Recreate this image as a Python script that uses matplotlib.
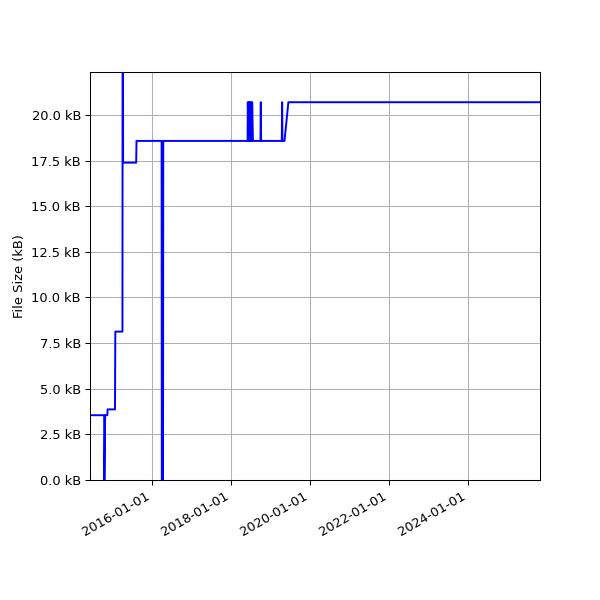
import matplotlib
matplotlib.use("Agg")
import matplotlib.pyplot as plt
import matplotlib.dates as mdates
import matplotlib.ticker as mticker
import numpy as np
from datetime import datetime

# commit dates and file size (kB)
commit_dates = ["2014-06-05", "2014-10-14", "2014-10-16", "2014-10-23", "2014-11-12",
                "2014-11-15",
                "2015-01-22", "2015-01-25", "2015-04-01", "2015-04-04", "2015-04-07",
                "2015-08-06", "2015-08-09",
                "2016-03-28", "2016-03-30", "2016-04-10", "2016-04-12",
                "2018-06-01", "2018-06-03", "2018-06-10", "2018-06-13", "2018-06-20",
                "2018-06-23", "2018-06-30", "2018-07-03", "2018-07-10", "2018-07-13",
                "2018-07-20", "2018-07-23",
                "2018-09-28", "2018-10-01", "2018-10-04",
                "2019-04-13", "2019-04-16", "2019-04-19",
                "2019-05-08", "2019-06-13", "2025-10-25"]
file_size_kb = [3.55, 3.55, 0.0, 3.55, 3.55,
                3.87,
                3.87, 8.13, 8.13, 45.0, 17.39,
                17.39, 18.58,
                18.58, 0.0, 0.0, 18.58,
                18.58, 20.7, 18.58, 20.7, 18.58,
                20.7, 18.58, 20.7, 18.58, 20.7,
                18.58, 18.58,
                18.58, 20.7, 18.58,
                18.58, 20.7, 18.58,
                18.58, 20.7, 20.7]

dates = [datetime.strptime(d, "%Y-%m-%d") for d in commit_dates]

fig, ax = plt.subplots(figsize=(6.4, 6.4), dpi=93.75)
fig.subplots_adjust(left=0.15, right=0.9, top=0.88)

ax.plot(dates, file_size_kb, color="b")

ax.set_xlim(dates[0], dates[-1])
ax.set_ylim(0, 20.7 * 1.08)
ax.set_ylabel("File Size (kB)")
ax.yaxis.set_major_formatter(mticker.FuncFormatter(lambda v, p: "{:.1f} kB".format(v)))
ax.xaxis.set_major_locator(mdates.YearLocator(2))
ax.xaxis.set_major_formatter(mdates.DateFormatter("%Y-%m-%d"))
ax.grid(True)
fig.autofmt_xdate()

fig.savefig("out.png", dpi=93.75)
